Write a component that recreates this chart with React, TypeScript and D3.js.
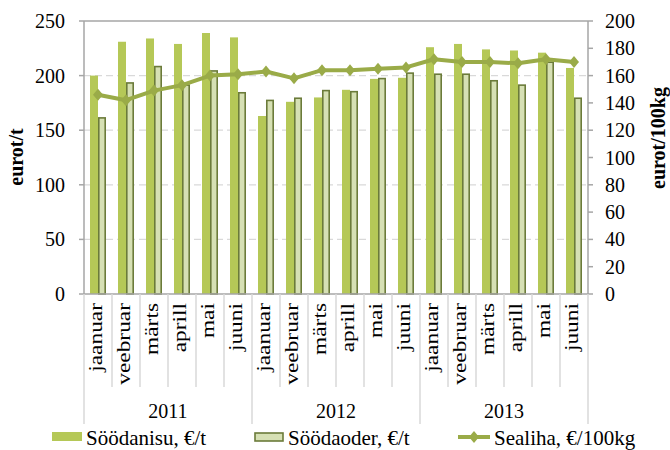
import { useEffect, useRef } from "react"
import * as d3 from "d3"

const months = ["jaanuar", "veebruar", "märts", "aprill", "mai", "juuni"]
const years = ["2011", "2012", "2013"]

// eurot/t (left axis)
const soodanisu = [200, 231, 234, 229, 239, 235, 163, 176, 180, 187, 197, 198, 226, 229, 224, 223, 221, 207]
const soodaoder = [162, 194, 209, 192, 205, 185, 178, 180, 187, 186, 198, 203, 202, 202, 196, 192, 213, 180]
// eurot/100kg (right axis)
const sealiha = [146, 142, 149, 153, 160, 161, 163, 158, 164, 164, 165, 166, 172, 170, 170, 169, 172, 170]

const leftTicks = [0, 50, 100, 150, 200, 250]
const rightTicks = [0, 20, 40, 60, 80, 100, 120, 140, 160, 180, 200]

const FONT = "Liberation Serif, Tinos, Times New Roman, DejaVu Serif, serif"
const C_NISU = "#b5c857"
const C_ODER = "#d6e0b4"
const C_ODER_STROKE = "#6b7b3a"
const C_LINE = "#9aab48"
const C_AXIS = "#a6a6a6"
const C_GRID = "#d9d9d9"

export default function App() {
  const ref = useRef<SVGSVGElement>(null)

  useEffect(() => {
    const svg = d3.select(ref.current)
    svg.selectAll("*").remove()

    const left = 84, right = 588, top = 21, bottom = 294

    const cats = years.flatMap(y => months.map(m => `${y}-${m}`))
    const x0 = d3.scaleBand<string>().domain(cats).range([left, right]).paddingInner(0).paddingOuter(0)
    const step = x0.step()
    const x1 = d3.scaleBand<string>().domain(["nisu", "oder"]).range([step * 0.2143, step * 0.7857])
    const yL = d3.scaleLinear().domain([0, 250]).range([bottom, top])
    const yR = d3.scaleLinear().domain([0, 200]).range([bottom, top])

    const g = svg.append("g").style("font-family", FONT)

    // gridlines
    g.selectAll("line.grid")
      .data(leftTicks.filter(t => t > 0 && t < 250))
      .join("line")
      .attr("x1", left).attr("x2", right)
      .attr("y1", d => yL(d)).attr("y2", d => yL(d))
      .attr("stroke", C_GRID).attr("stroke-width", 1.3)
      .attr("stroke-dasharray", "7,4")

    // top border
    g.append("line")
      .attr("x1", left).attr("x2", right)
      .attr("y1", yL(250)).attr("y2", yL(250))
      .attr("stroke", C_AXIS).attr("stroke-width", 1.3)

    // bars
    const bars = g.append("g")
    bars.selectAll("rect.nisu")
      .data(soodanisu)
      .join("rect")
      .attr("x", (d, i) => x0(cats[i])! + x1("nisu")!)
      .attr("y", d => yL(d))
      .attr("width", x1.bandwidth())
      .attr("height", d => bottom - yL(d))
      .attr("fill", C_NISU)

    bars.selectAll("rect.oder")
      .data(soodaoder)
      .join("rect")
      .attr("x", (d, i) => x0(cats[i])! + x1("oder")! + 0.8)
      .attr("y", d => yL(d) + 0.8)
      .attr("width", x1.bandwidth() - 1.6)
      .attr("height", d => bottom - yL(d) - 0.8)
      .attr("fill", C_ODER)
      .attr("stroke", C_ODER_STROKE)
      .attr("stroke-width", 1.6)

    // line + markers
    const cx = (i: number) => x0(cats[i])! + step / 2
    const line = d3.line<number>().x((d, i) => cx(i)).y(d => yR(d))
    g.append("path")
      .attr("d", line(sealiha))
      .attr("fill", "none")
      .attr("stroke", C_LINE)
      .attr("stroke-width", 4)
      .attr("stroke-linejoin", "round")

    const diamond = "M0,-6L5,0L0,6L-5,0Z"
    g.selectAll("path.mk")
      .data(sealiha)
      .join("path")
      .attr("d", diamond)
      .attr("transform", (d, i) => `translate(${cx(i)},${yR(d)})`)
      .attr("fill", C_LINE)

    // axes lines
    g.append("line").attr("x1", left).attr("x2", left).attr("y1", top).attr("y2", bottom)
      .attr("stroke", C_AXIS).attr("stroke-width", 1.5)
    g.append("line").attr("x1", right).attr("x2", right).attr("y1", top).attr("y2", bottom)
      .attr("stroke", C_AXIS).attr("stroke-width", 1.5)
    g.append("line").attr("x1", left).attr("x2", right).attr("y1", bottom).attr("y2", bottom)
      .attr("stroke", C_AXIS).attr("stroke-width", 1.5)

    // left ticks & labels
    leftTicks.forEach(t => {
      g.append("line").attr("x1", left - 5).attr("x2", left).attr("y1", yL(t)).attr("y2", yL(t))
        .attr("stroke", C_AXIS).attr("stroke-width", 1.5)
      g.append("text").attr("x", 65).attr("y", yL(t)).attr("dy", "0.35em")
        .attr("text-anchor", "end").attr("font-size", 20)
        .attr("fill", "#000").text(t)
    })
    rightTicks.forEach(t => {
      g.append("line").attr("x1", right).attr("x2", right + 5).attr("y1", yR(t)).attr("y2", yR(t))
        .attr("stroke", C_AXIS).attr("stroke-width", 1.5)
      g.append("text").attr("x", 605).attr("y", yR(t)).attr("dy", "0.35em")
        .attr("text-anchor", "start").attr("font-size", 20)
        .attr("fill", "#000").text(t)
    })

    // axis titles
    g.append("text").attr("transform", "translate(23,157) rotate(-90)")
      .attr("text-anchor", "middle").attr("font-size", 20)
      .attr("font-weight", "bold").text("eurot/t")
    g.append("text").attr("transform", "translate(665,138) rotate(-90)")
      .attr("text-anchor", "middle").attr("font-size", 20)
      .attr("font-weight", "bold").text("eurot/100kg")

    // category separators
    cats.forEach((c, i) => {
      const xs = x0(c)!
      const isGroup = i % months.length === 0
      g.append("line").attr("x1", xs).attr("x2", xs).attr("y1", bottom)
        .attr("y2", isGroup ? 424 : 387)
        .attr("stroke", C_GRID).attr("stroke-width", 1.5)
    })
    g.append("line").attr("x1", right).attr("x2", right).attr("y1", bottom).attr("y2", 424)
      .attr("stroke", C_GRID).attr("stroke-width", 1.5)

    // month labels
    cats.forEach((c, i) => {
      g.append("text")
        .attr("transform", `translate(${cx(i) + 4},303) scale(1,1.3) rotate(-90)`)
        .attr("text-anchor", "end").attr("font-size", 18)
        .text(months[i % months.length])
    })

    // year labels
    years.forEach((y, k) => {
      const xs = x0(cats[k * months.length])!
      g.append("text").attr("x", xs + step * months.length / 2).attr("y", 418)
        .attr("text-anchor", "middle").attr("font-size", 20)
        .text(y)
    })

    // legend
    const ly = 445
    const lg = g.append("g")
    lg.append("rect").attr("x", 52).attr("y", 432).attr("width", 30).attr("height", 9).attr("fill", C_NISU)
    lg.append("text").attr("x", 86).attr("y", ly).attr("font-size", 21).text("Söödanisu, €/t")
    lg.append("rect").attr("x", 255).attr("y", 433).attr("width", 28).attr("height", 8)
      .attr("fill", C_ODER).attr("stroke", C_ODER_STROKE).attr("stroke-width", 1.6)
    lg.append("text").attr("x", 288).attr("y", ly).attr("font-size", 21).text("Söödaoder, €/t")
    lg.append("line").attr("x1", 458).attr("x2", 490).attr("y1", 437).attr("y2", 437)
      .attr("stroke", C_LINE).attr("stroke-width", 4)
    lg.append("path").attr("d", diamond).attr("transform", "translate(474,437)").attr("fill", C_LINE)
    lg.append("text").attr("x", 494).attr("y", ly).attr("font-size", 21).text("Sealiha, €/100kg")
  }, [])

  return (
    <svg ref={ref} width={670} height={450}
      style={{ position: "absolute", left: 0, top: 0, background: "#fff" }} />
  )
}
